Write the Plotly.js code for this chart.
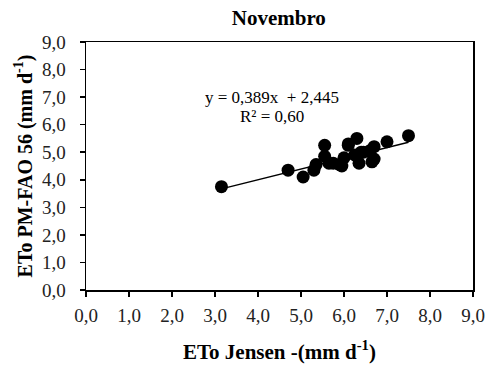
<!DOCTYPE html>
<html>
<head>
<meta charset="utf-8">
<script src="https://cdn.plot.ly/plotly-3.0.1.min.js"></script>
<style>html,body{margin:0;padding:0;background:#fff;}#chart{width:490px;height:365px;}</style>
</head>
<body>
<div id="chart"></div>
<script>
var etoJensen = [3.15, 4.7, 5.05, 5.3, 5.35, 5.55, 5.55, 5.65, 5.75, 5.9, 5.95, 6.0, 6.1, 6.1, 6.25, 6.3, 6.35, 6.4, 6.45, 6.6, 6.65, 6.7, 6.7, 7.0, 7.5];
var etoPM = [3.75, 4.35, 4.1, 4.35, 4.55, 5.25, 4.85, 4.6, 4.6, 4.55, 4.5, 4.8, 5.25, 5.3, 4.9, 5.5, 4.6, 5.0, 5.0, 5.05, 4.65, 5.2, 4.75, 5.38, 5.6];
var slope = 0.389, intercept = 2.445, r2 = '0,60';
var chartTitle = 'Novembro';
var xTitle = 'ETo Jensen -(mm d<sup>-1</sup>)';
var yTitle = 'ETo PM-FAO 56 (mm d<sup>-1</sup>)';

var xmin = Math.min.apply(null, etoJensen), xmax = Math.max.apply(null, etoJensen);
var fitX = [xmin, xmax];
var fitY = fitX.map(function(v){ return slope * v + intercept; });

var font = '"Times New Roman", "Liberation Serif", serif';

var traces = [
  {x: fitX, y: fitY, type: 'scatter', mode: 'lines', line: {color: '#000', width: 1.5}, hoverinfo: 'skip'},
  {x: etoJensen, y: etoPM, type: 'scatter', mode: 'markers', marker: {color: '#000', size: 13}}
];

function axis(extra) {
  var a = {
    range: [0, 9], dtick: 1, tick0: 0, tickformat: '.1f',
    showgrid: false, zeroline: false, showline: true, linecolor: '#000', linewidth: 1.5,
    mirror: true, ticks: 'outside', ticklen: 5, tickwidth: 1.5, tickcolor: '#000',
    tickfont: {family: font, size: 19, color: '#222'}
  };
  for (var k in extra) a[k] = extra[k];
  return a;
}

var layout = {
  width: 490, height: 365,
  margin: {l: 86, r: 17, t: 42, b: 75},
  paper_bgcolor: '#fff', plot_bgcolor: '#fff',
  showlegend: false,
  separators: ',.',
  font: {family: font, color: '#000'},
  title: {text: '<b>' + chartTitle + '</b>', font: {family: font, size: 21, color: '#000'}, x: 0.569, xanchor: 'center', y: 0.952, yanchor: 'middle'},
  xaxis: axis({ticklabelstandoff: 3, title: {text: '<b>' + xTitle + '</b>', font: {family: font, size: 21, color: '#000'}, standoff: 19}}),
  yaxis: axis({ticklabelstandoff: 10, title: {text: '<b>' + yTitle + '</b>', font: {family: font, size: 20, color: '#000'}, standoff: 4}}),
  annotations: [
    {x: 4.33, y: 7.0, xref: 'x', yref: 'y', text: 'y = 0,389x  + 2,445', showarrow: false, font: {family: font, size: 17, color: '#000'}},
    {x: 4.33, y: 6.28, xref: 'x', yref: 'y', text: 'R² = ' + r2, showarrow: false, font: {family: font, size: 17, color: '#000'}}
  ]
};

Plotly.newPlot('chart', traces, layout, {displayModeBar: false, staticPlot: true});
</script>
</body>
</html>
